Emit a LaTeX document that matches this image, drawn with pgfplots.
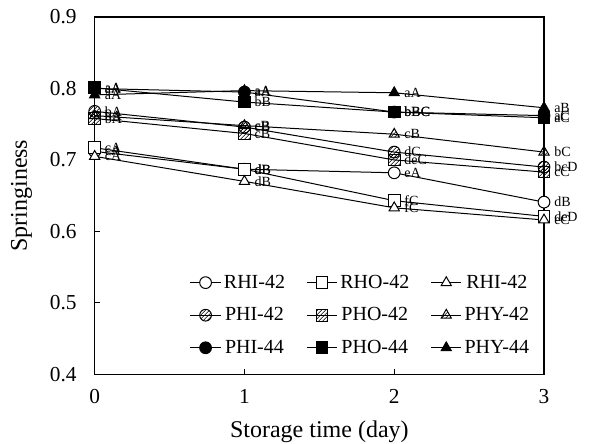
\documentclass[border=0pt]{standalone}
\usepackage{pgfplots}
\pgfplotsset{compat=1.18}
\usepackage{pgfplotstable}
\usepackage{fontspec}
\setmainfont{Liberation Serif}
\usetikzlibrary{patterns}

\pgfplotstableread{
x y l
0 0.712 cA
1 0.687 dB
2 0.682 eA
3 0.641 dB
}\rhi
\pgfplotstableread{
x y l
0 0.717 cA
1 0.687 dB
2 0.643 fC
3 0.621 deD
}\rho
\pgfplotstableread{
x y l
0 0.705 cA
1 0.670 dB
2 0.633 fC
3 0.616 eC
}\rhy
\pgfplotstableread{
x y l
0 0.768 bA
1 0.746 cB
2 0.711 dC
3 0.690 bcD
}\phia
\pgfplotstableread{
x y l
0 0.758 bA
1 0.737 cB
2 0.700 deC
3 0.683 cC
}\phoa
\pgfplotstableread{
x y l
0 0.762 bA
1 0.748 cB
2 0.736 cB
3 0.711 bC
}\phya
\pgfplotstableread{
x y l
0 0.800 aA
1 0.795 aA
2 0.767 bBC
3 0.762 aC
}\phib
\pgfplotstableread{
x y l
0 0.801 aA
1 0.781 bB
2 0.767 bBC
3 0.759 aC
}\phob
\pgfplotstableread{
x y l
0 0.791 aA
1 0.797 aA
2 0.794 aA
3 0.773 aB
}\phyb

\newcommand{\lf}{\fontsize{15}{17}\selectfont}

\pgfplotsset{
  lab/.style={nodes near coords, point meta=explicit symbolic,
    every node near coord/.append style={anchor=west, font=\fontsize{10.5}{12}\selectfont, xshift=4pt, yshift=0pt, text=black}},
  ser/.style={black, line width=0.75pt, mark size=4.4pt},
}

\begin{document}
\begin{tikzpicture}
\useasboundingbox (-71pt,-52pt) rectangle (373pt,280.75pt);
\begin{axis}[
  at={(0,0)}, anchor=south west,
  scale only axis, width=337pt, height=268pt,
  xmin=0, xmax=3, ymin=0.4, ymax=0.9,
  xtick={0,1,2,3}, ytick={0.4,0.5,0.6,0.7,0.8,0.9},
  xtick pos=left, ytick pos=left,
  tick align=inside, major tick length=4pt,
  axis line style={line width=0.8pt}, tick style={line width=0.8pt, black},
  clip=false,
  /pgf/number format/assume math mode=true,
  yticklabel style={/pgf/number format/fixed, /pgf/number format/fixed zerofill, /pgf/number format/precision=1, xshift=-10pt},
  xticklabel style={yshift=-8pt},
  tick label style={font=\fontsize{16}{19}\selectfont},
  xlabel={Storage time (day)}, ylabel={Springiness},
  label style={font=\fontsize{18}{21}\selectfont},
  xlabel style={at={(axis description cs:0.5,-0.16)}, anchor=center},
  ylabel style={at={(axis description cs:-0.163,0.5)}, anchor=center},
  legend columns=3,
  legend image code/.code={\draw[mark repeat=2, mark phase=2, #1] plot coordinates {(0cm,0cm) (0.4cm,0cm) (0.8cm,0cm)};},
  legend style={at={(1,0)}, anchor=south east, xshift=-9pt, yshift=12pt, draw=none, fill=none,
    row sep=9pt, inner xsep=0pt, inner ysep=0pt,
    /tikz/every even column/.append style={column sep=14pt}},
]
\addplot[ser, mark=*, mark options={fill=white}, lab] table[meta=l]{\rhi};
\addlegendentry{\lf RHI-42}
\addplot[ser, mark=square*, mark options={fill=white}, lab] table[meta=l]{\rho};
\addlegendentry{\lf RHO-42}
\addplot[ser, mark=triangle*, mark options={fill=white}, lab] table[meta=l]{\rhy};
\addlegendentry{\lf RHI-42}
\addplot[ser, mark=*, mark options={pattern=north east lines}, lab] table[meta=l]{\phia};
\addlegendentry{\lf PHI-42}
\addplot[ser, mark=square*, mark options={pattern=north east lines}, lab] table[meta=l]{\phoa};
\addlegendentry{\lf PHO-42}
\addplot[ser, mark=triangle*, mark options={pattern=north east lines}, lab] table[meta=l]{\phya};
\addlegendentry{\lf PHY-42}
\addplot[ser, mark=*, mark options={fill=black}, lab] table[meta=l]{\phib};
\addlegendentry{\lf PHI-44}
\addplot[ser, mark=square*, mark options={fill=black}, lab] table[meta=l]{\phob};
\addlegendentry{\lf PHO-44}
\addplot[ser, mark=triangle*, mark options={fill=black}, lab] table[meta=l]{\phyb};
\addlegendentry{\lf PHY-44}
\end{axis}
\end{tikzpicture}
\end{document}
